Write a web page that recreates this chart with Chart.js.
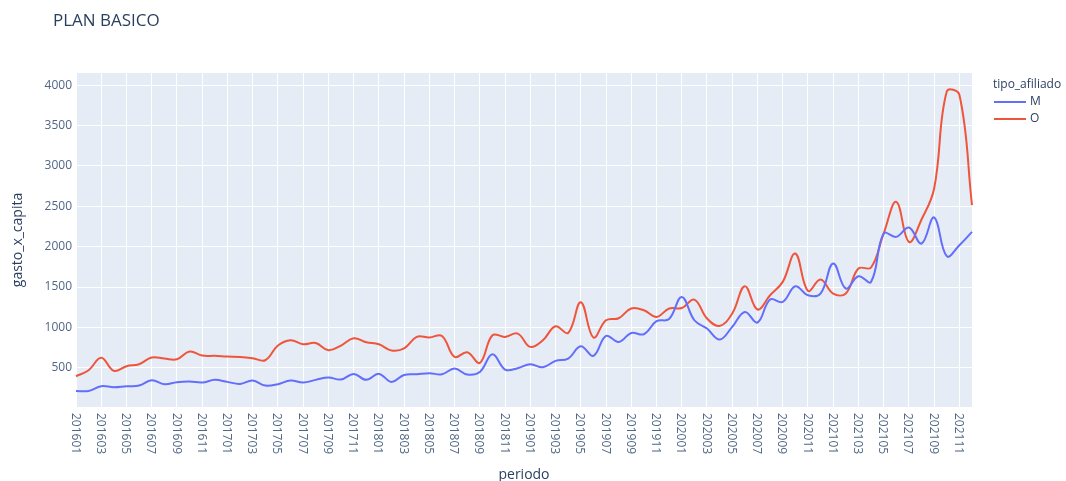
<!DOCTYPE html>
<html>
<head>
<meta charset="utf-8">
<title>PLAN BASICO</title>
<script src="https://cdn.jsdelivr.net/npm/chart.js@4.4.1/dist/chart.umd.min.js"></script>
<style>
  html, body { margin: 0; padding: 0; background: #fff; }
  #wrap { width: 1066px; height: 481px; position: relative; }
</style>
</head>
<body>
<div id="wrap"><canvas id="chart" width="1066" height="481"></canvas></div>
<script>
// --- data ---
const periodos = [
    '201601','201602','201603','201604','201605','201606','201607','201608','201609','201610','201611','201612',
    '201701','201702','201703','201704','201705','201706','201707','201708','201709','201710','201711','201712',
    '201801','201802','201803','201804','201805','201806','201807','201808','201809','201810','201811','201812',
    '201901','201902','201903','201904','201905','201906','201907','201908','201909','201910','201911','201912',
    '202001','202002','202003','202004','202005','202006','202007','202008','202009','202010','202011','202012',
    '202101','202102','202103','202104','202105','202106','202107','202108','202109','202110','202111','202112'
];

const gastoM = [
    214, 214, 272, 260, 272, 280, 347, 297, 322, 330, 318, 351,
    326, 301, 342, 280, 297, 342, 318, 351, 380, 355, 425, 351,
    425, 326, 412, 421, 433, 421, 491, 417, 449, 668, 479, 495,
    545, 507, 586, 615, 767, 648, 895, 821, 932, 916, 1077, 1105,
    1378, 1089, 986, 850, 1007, 1192, 1061, 1345, 1316, 1510, 1399, 1420,
    1791, 1482, 1634, 1564, 2163, 2121, 2237, 2039, 2361, 1882, 2018, 2183
];

const gastoO = [
    396, 470, 625, 462, 520, 545, 627, 615, 606, 702, 652, 648,
    640, 635, 619, 594, 776, 842, 792, 808, 718, 776, 866, 817,
    792, 715, 740, 883, 875, 895, 635, 693, 561, 903, 883, 924,
    759, 842, 1015, 932, 1312, 875, 1089, 1114, 1234, 1213, 1130, 1234,
    1241, 1345, 1110, 1019, 1172, 1510, 1222, 1399, 1564, 1915, 1452, 1593,
    1420, 1420, 1729, 1742, 2163, 2554, 2059, 2336, 2720, 3920, 3880, 2513
];

const yTicks = [500, 1000, 1500, 2000, 2500, 3000, 3500, 4000];

const FONT = '"Open Sans", "Noto Sans", sans-serif';
const TEXT = '#2a3f5f';
const TICK = '#506784';

// Plotly-like extras: rotated x labels, title and legend
const plotlyExtras = {
    id: 'plotlyExtras',
    beforeDraw(chart) {
        const { ctx, chartArea } = chart;
        ctx.save();
        ctx.fillStyle = '#E5ECF6';
        ctx.fillRect(chartArea.left, chartArea.top, chartArea.right - chartArea.left, chartArea.bottom - chartArea.top);
        ctx.restore();
    },
    afterDraw(chart) {
        const { ctx, chartArea } = chart;
        const xs = chart.scales.x;
        ctx.save();

        // x tick labels, every 2 months, reading top to bottom
        ctx.font = '12px ' + FONT;
        ctx.fillStyle = TICK;
        ctx.textAlign = 'left';
        ctx.textBaseline = 'middle';
        periodos.forEach((p, i) => {
            if (i % 2 !== 0) return;
            const x = xs.getPixelForValue(i);
            ctx.save();
            ctx.translate(x - 1, chartArea.bottom + 6);
            ctx.rotate(Math.PI / 2);
            ctx.fillText(p, 0, 0);
            ctx.restore();
        });

        // title
        ctx.font = '17px ' + FONT;
        ctx.fillStyle = TEXT;
        ctx.textBaseline = 'middle';
        ctx.fillText('PLAN BASICO', 53, 21);

        // legend
        ctx.font = '12px ' + FONT;
        ctx.fillStyle = TEXT;
        ctx.fillText('tipo_afiliado', 993, 85);
        chart.data.datasets.forEach((ds, k) => {
            const y = 102 + k * 17;
            ctx.strokeStyle = ds.borderColor;
            ctx.lineWidth = 2;
            ctx.beginPath();
            ctx.moveTo(994, y);
            ctx.lineTo(1026, y);
            ctx.stroke();
            ctx.fillStyle = TEXT;
            ctx.fillText(ds.label, 1030, y);
        });
        ctx.restore();
    }
};

new Chart(document.getElementById('chart').getContext('2d'), {
    type: 'line',
    data: {
        labels: periodos,
        datasets: [
            {
                label: 'M',
                data: gastoM,
                borderColor: '#636efa',
                borderWidth: 2,
                pointRadius: 0,
                tension: 0.4,
                fill: false
            },
            {
                label: 'O',
                data: gastoO,
                borderColor: '#EF553B',
                borderWidth: 2,
                pointRadius: 0,
                tension: 0.4,
                fill: false
            }
        ]
    },
    options: {
        responsive: false,
        animation: false,
        layout: { padding: { top: 73, right: 94, left: 0, bottom: 0 } },
        plugins: {
            legend: { display: false },
            title: { display: false },
            tooltip: { enabled: false }
        },
        scales: {
            x: {
                type: 'category',
                offset: false,
                border: { display: false },
                grid: {
                    drawTicks: false,
                    color: c => (c.index % 2 === 0 ? '#ffffff' : 'rgba(0,0,0,0)'),
                    lineWidth: 1
                },
                ticks: { display: false, autoSkip: false },
                title: {
                    display: true,
                    text: 'periodo',
                    color: TEXT,
                    font: { family: FONT, size: 14 },
                    padding: { top: 0, bottom: -2 }
                },
                afterFit: s => { s.height = 74; }
            },
            y: {
                min: 15,
                max: 4150,
                border: { display: false },
                grid: { drawTicks: false, color: '#ffffff', lineWidth: 1 },
                afterBuildTicks: s => { s.ticks = yTicks.map(v => ({ value: v })); },
                ticks: {
                    color: TICK,
                    padding: 4,
                    font: { family: FONT, size: 12 },
                    callback: v => String(v)
                },
                title: {
                    display: true,
                    text: 'gasto_x_capita',
                    color: TEXT,
                    font: { family: FONT, size: 14 },
                    padding: { top: 10, bottom: 0 }
                },
                afterFit: s => { s.width = 76; }
            }
        }
    },
    plugins: [plotlyExtras]
});
</script>
</body>
</html>
